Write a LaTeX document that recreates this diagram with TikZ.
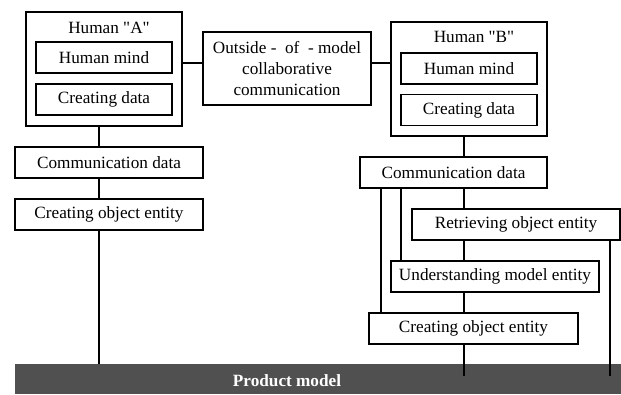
\documentclass[tikz,border=0pt]{standalone}
\usepackage{fontspec}
\setmainfont{Liberation Serif}
\definecolor{barcol}{HTML}{505050}
\begin{document}
\begin{tikzpicture}[x=1bp,y=-1bp,
  every node/.style={font=\fontsize{17.2bp}{21bp}\selectfont},
  box/.style={draw, line width=1.2bp, inner sep=0pt, rectangle, minimum height=31bp},
  conn/.style={line width=1.3bp}]
\useasboundingbox (0,0) rectangle (621,394);
% product model bar
\node[fill=barcol, inner sep=0pt, minimum width=606bp, minimum height=30bp] (bar) at (318,379) {};
\node[text=white, font=\fontsize{17.2bp}{21bp}\selectfont\bfseries] (barlabel) at (287,381) {Product model};
% Human A
\node[box, minimum width=156bp, minimum height=114bp] (Aouter) at (104,69) {};
\node (Alabel) at (109,28) {Human \textquotedbl A\textquotedbl};
\node[box, minimum width=136bp] (Amind) at (104,57.5) {Human mind};
\node[box, minimum width=136bp] (Adata) at (104,99.5) {Creating data};
% Outside
\node[box, minimum width=168bp, minimum height=73bp, align=center] (Out) at (287,68.5) {Outside -~ of ~- model\\collaborative\\communication};
% Human B
\node[box, minimum width=156bp, minimum height=114bp] (Bouter) at (469,79) {};
\node (Blabel) at (474,37) {Human \textquotedbl B\textquotedbl};
\node[box, minimum width=136bp] (Bmind) at (469,68.5) {Human mind};
\node[box, minimum width=136bp] (Bdata) at (469,110) {Creating data};
% left chain
\node[box, minimum width=188bp] (AComm) at (109,162.5) {Communication data};
\node[box, minimum width=188bp] (ACreate) at (109,214.5) {Creating object entity};
% right chain
\node[box, minimum width=187bp] (BComm) at (453.5,172.5) {Communication data};
\node[box, minimum width=208bp] (Retr) at (516,224.5) {Retrieving object entity};
\node[box, minimum width=208bp] (Und) at (495,276.5) {Understanding model entity};
\node[box, minimum width=209bp] (BCreate) at (473.5,328.5) {Creating object entity};
% helper coordinates
\coordinate (h63) at (0,63);
\coordinate (xa) at (99,0);
\coordinate (xb) at (464,0);
\coordinate (x381) at (381,0);
\coordinate (x401) at (401,0);
\coordinate (x610) at (610,0);
\coordinate (endB) at (464,376);
\coordinate (endR) at (610,376);
% connectors
\draw[conn] (Aouter.east |- h63) -- (Out.west |- h63);
\draw[conn] (Out.east |- h63) -- (Bouter.west |- h63);
\draw[conn] (xa |- Aouter.south) -- (xa |- AComm.north);
\draw[conn] (xa |- AComm.south) -- (xa |- ACreate.north);
\draw[conn] (xa |- ACreate.south) -- (xa |- bar.north);
\draw[conn] (xb |- Bouter.south) -- (xb |- BComm.north);
\draw[conn] (xb |- BComm.south) -- (xb |- Retr.north);
\draw[conn] (xb |- Retr.south) -- (xb |- Und.north);
\draw[conn] (xb |- Und.south) -- (xb |- BCreate.north);
\draw[conn] (xb |- BCreate.south) -- (endB);
\draw[conn] (x381 |- BComm.south) -- (x381 |- BCreate.north);
\draw[conn] (x401 |- BComm.south) -- (x401 |- Und.north);
\draw[conn] (x610 |- Retr.south) -- (endR);
\end{tikzpicture}
\end{document}
